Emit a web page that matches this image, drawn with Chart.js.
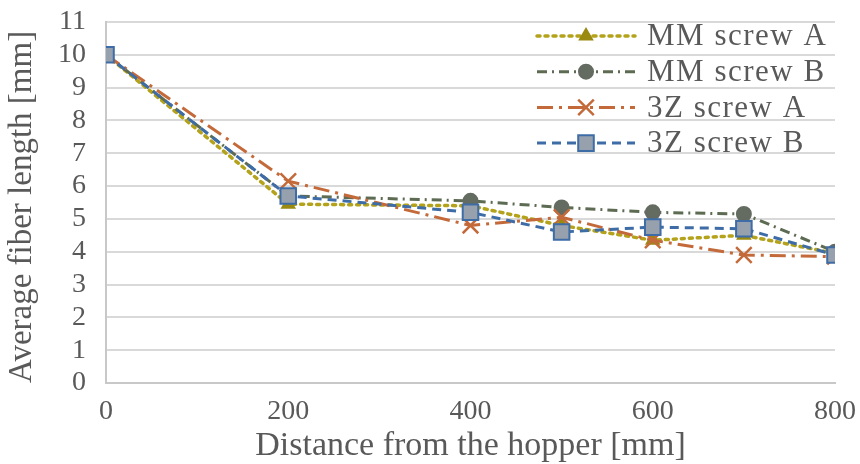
<!DOCTYPE html>
<html>
<head>
<meta charset="utf-8">
<script src="https://cdn.jsdelivr.net/npm/chart.js@4.4.1/dist/chart.umd.min.js"></script>
<style>
  html, body { margin: 0; padding: 0; background: #fff; }
  #wrap { width: 860px; height: 464px; }
</style>
</head>
<body>
<div id="wrap"><canvas id="chart"></canvas></div>
<script>
// distance from the hopper [mm]
const distances = [0, 200, 400, 500, 600, 700, 800];
// average fiber length [mm]
const mmScrewA = [10, 5.45, 5.4, 4.8, 4.35, 4.5, 3.95];
const mmScrewB = [10, 5.7, 5.55, 5.35, 5.2, 5.15, 4.0];
const zScrewA = [10, 6.15, 4.8, 5.05, 4.35, 3.9, 3.85];
const zScrewB = [10, 5.7, 5.2, 4.6, 4.75, 4.7, 3.9];
const seriesNames = ["MM screw A", "MM screw B", "3Z screw A", "3Z screw B"];
const xTickValues = [0, 200, 400, 600, 800];
const yTickValues = [0, 1, 2, 3, 4, 5, 6, 7, 8, 9, 10, 11];

const FONT = "'Liberation Serif', 'Times New Roman', serif";
const TEXT = "#595959";

const toPoints = (vals) => distances.map((d, i) => ({ x: d, y: vals[i] }));

const styles = [
  { color: "#b3a21a", fill: "#9a8a10", dash: [3, 5], width: 3.5, cap: "round", marker: "triangle", r: 7, order: 4 },
  { color: "#5d6b52", fill: "#646b60", dash: [10, 5, 2, 5], width: 3, cap: "butt", marker: "circle", r: 7, order: 3 },
  { color: "#c46a3a", fill: "#c46a3a", dash: [16, 6, 3, 6], width: 3, cap: "butt", marker: "crossRot", r: 11, order: 2 },
  { color: "#3e6ca6", fill: "#97a0ad", dash: [9, 6], width: 3, cap: "butt", marker: "rect", r: 11, order: 1 },
];

const seriesValues = [mmScrewA, mmScrewB, zScrewA, zScrewB];

const datasets = seriesValues.map((vals, i) => {
  const s = styles[i];
  return {
    label: seriesNames[i],
    data: toPoints(vals),
    borderColor: s.color,
    borderWidth: s.width,
    borderDash: s.dash,
    borderCapStyle: s.cap,
    pointStyle: s.marker,
    pointRadius: s.r,
    pointBackgroundColor: s.fill,
    pointBorderColor: s.marker === "rect" || s.marker === "crossRot" ? s.color : s.fill,
    pointBorderWidth: s.marker === "crossRot" ? 2.5 : 2,
    tension: 0,
    fill: false,
    order: s.order,
  };
});

// legend drawn inside the plot area, line sample + marker like the original
function drawMarker(ctx, s, x, y) {
  ctx.save();
  ctx.setLineDash([]);
  ctx.fillStyle = s.fill;
  ctx.strokeStyle = s.marker === "rect" || s.marker === "crossRot" ? s.color : s.fill;
  ctx.lineWidth = s.marker === "crossRot" ? 2.5 : 2;
  ctx.beginPath();
  if (s.marker === "triangle") {
    ctx.moveTo(x, y - s.r);
    ctx.lineTo(x + s.r * 0.87, y + s.r * 0.5);
    ctx.lineTo(x - s.r * 0.87, y + s.r * 0.5);
    ctx.closePath();
    ctx.fill(); ctx.stroke();
  } else if (s.marker === "circle") {
    ctx.arc(x, y, s.r, 0, Math.PI * 2);
    ctx.fill(); ctx.stroke();
  } else if (s.marker === "crossRot") {
    const o = s.r * Math.SQRT1_2;
    ctx.moveTo(x - o, y - o); ctx.lineTo(x + o, y + o);
    ctx.moveTo(x - o, y + o); ctx.lineTo(x + o, y - o);
    ctx.stroke();
  } else {
    const h = s.r * Math.SQRT1_2;
    ctx.rect(x - h, y - h, 2 * h, 2 * h);
    ctx.fill(); ctx.stroke();
  }
  ctx.restore();
}

const overlayLegend = {
  id: "overlayLegend",
  afterDraw(chart) {
    const ctx = chart.ctx;
    const area = chart.chartArea;
    const x0 = area.right - 298;
    const lineLen = 98;
    seriesNames.forEach((name, i) => {
      const s = styles[i];
      const y = area.top + 14 + i * 35.7;
      ctx.save();
      ctx.strokeStyle = s.color;
      ctx.lineWidth = s.width;
      ctx.lineCap = s.cap;
      ctx.setLineDash(s.dash);
      ctx.beginPath();
      ctx.moveTo(x0, y);
      ctx.lineTo(x0 + lineLen, y);
      ctx.stroke();
      ctx.restore();
      drawMarker(ctx, s, x0 + lineLen / 2, y);
      ctx.save();
      ctx.font = "31px " + FONT;
      if ("letterSpacing" in ctx) ctx.letterSpacing = "1.5px";
      ctx.fillStyle = TEXT;
      ctx.textBaseline = "middle";
      ctx.textAlign = "left";
      ctx.fillText(name, x0 + lineLen + 12, y + 1);
      ctx.restore();
    });
  },
};

new Chart(document.getElementById("chart"), {
  type: "line",
  data: { datasets },
  plugins: [overlayLegend],
  options: {
    responsive: true,
    maintainAspectRatio: false,
    animation: false,
    layout: { padding: { top: 22, right: 25, left: 0, bottom: 1 } },
    plugins: {
      legend: { display: false },
      tooltip: { enabled: false },
    },
    scales: {
      x: {
        type: "linear",
        min: 0,
        max: 800,
        afterBuildTicks: (axis) => { axis.ticks = xTickValues.map((v) => ({ value: v })); },
        grid: { display: false, drawTicks: true, tickLength: 12.5 },
        border: { display: true, color: "#c8c8c8", width: 2 },
        ticks: { color: TEXT, font: { family: FONT, size: 28, lineHeight: 1 }, padding: 2, autoSkip: false, maxRotation: 0 },
        title: {
          display: true,
          text: "Distance from the hopper [mm]",
          color: TEXT,
          font: { family: FONT, size: 34, lineHeight: 1 },
          padding: { top: 1.5, bottom: 0 },
        },
      },
      y: {
        min: 0,
        max: 11,
        afterBuildTicks: (axis) => { axis.ticks = yTickValues.map((v) => ({ value: v })); },
        grid: { color: "#d9d9d9", lineWidth: 2, drawTicks: true, tickLength: 14, tickColor: "rgba(0,0,0,0)" },
        border: { display: true, color: "#c8c8c8", width: 2 },
        ticks: { color: TEXT, font: { family: FONT, size: 28, lineHeight: 1 }, padding: 6, autoSkip: false },
        title: {
          display: true,
          text: "Average fiber length [mm]",
          align: "start",
          color: TEXT,
          font: { family: FONT, size: 33, lineHeight: 1.1 },
          padding: { top: 4, bottom: 11.7 },
        },
      },
    },
  },
});
</script>
</body>
</html>
